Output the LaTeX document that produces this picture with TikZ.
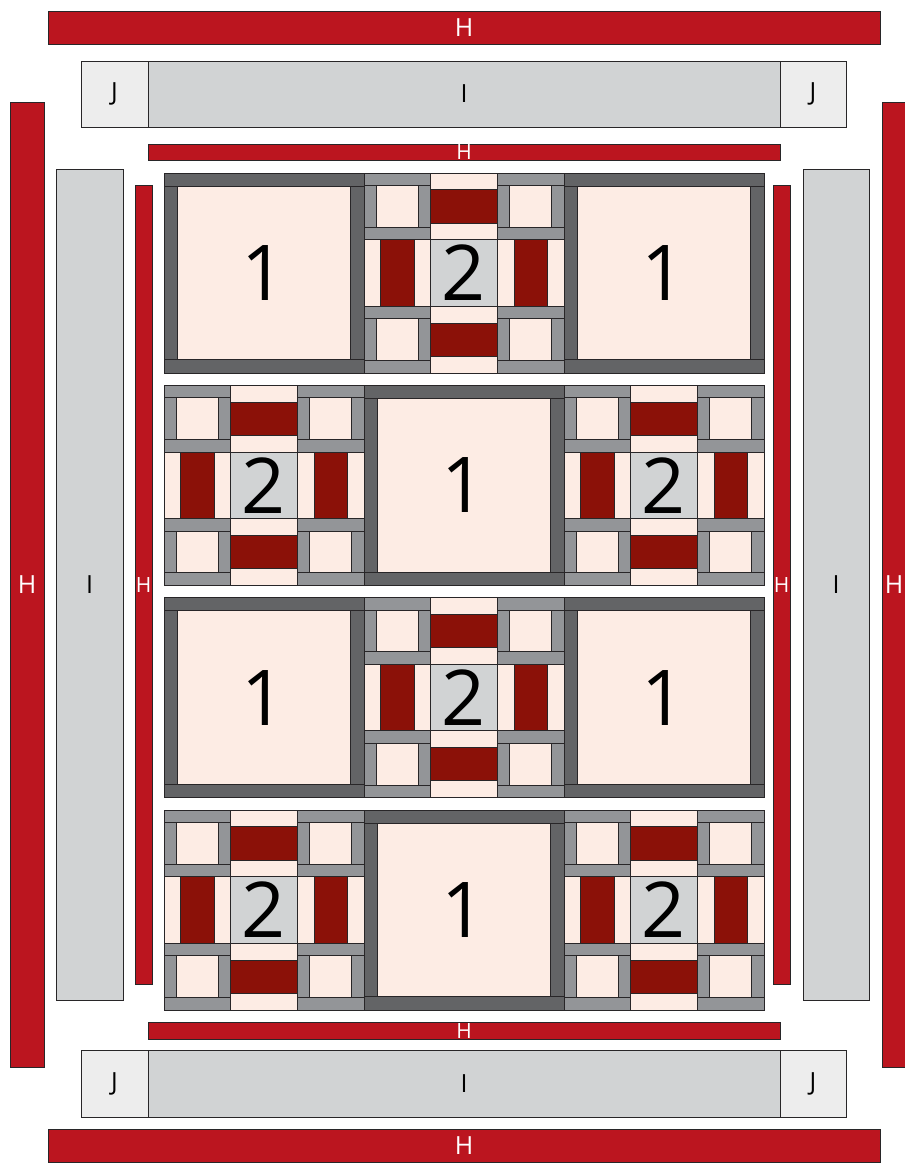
\documentclass[tikz,border=0pt]{standalone}
\usepackage{fontspec}
\setmainfont{Open Sans}
\definecolor{hred}{RGB}{187,21,31}
\definecolor{dred}{RGB}{139,17,8}
\definecolor{qpink}{RGB}{253,236,228}
\definecolor{dgray}{RGB}{99,100,102}
\definecolor{mgray}{RGB}{147,149,152}
\definecolor{lgray}{RGB}{209,211,212}
\definecolor{jgray}{RGB}{237,237,237}
\definecolor{edgec}{RGB}{40,38,40}
\tikzset{
  pc/.style={draw=edgec, line width=0.9pt},
  bar/.style={pc, rectangle, inner sep=0pt, outer sep=0pt},
  hbar/.style={bar, fill=hred, text=white, font=\fontsize{25}{30}\selectfont},
  hsmall/.style={bar, fill=hred, text=white, font=\fontsize{21}{24}\selectfont},
  ibar/.style={bar, fill=lgray, text=black, font=\fontsize{25}{30}\selectfont},
  jbar/.style={bar, fill=jgray, text=black, font=\fontsize{25}{30}\selectfont},
  digit/.style={inner sep=0pt, font=\fontsize{77}{80}\selectfont},
  hlabel/.style={inner sep=0pt, text=white, font=\fontsize{25}{30}\selectfont},
}
\def\cc{66.667}
\def\g{12.6}
\def\fr{13.3}
% block 1 in local coords 0..200
\newcommand{\qBlockA}[1]{%
  \path[pc,fill=dgray] (0,0) rectangle (200,\fr);
  \path[pc,fill=dgray] (0,{200-\fr}) rectangle (200,200);
  \path[pc,fill=dgray] (0,\fr) rectangle (\fr,{200-\fr});
  \path[pc,fill=dgray] ({200-\fr},\fr) rectangle (200,{200-\fr});
  \path[pc,fill=qpink] (\fr,\fr) rectangle ({200-\fr},{200-\fr});
  \node[digit] (#1) at (100,100) {1};
}
\newcommand{\qCorner}{%
  \path[pc,fill=mgray] (0,0) rectangle (\cc,\g);
  \path[pc,fill=mgray] (0,{\cc-\g}) rectangle (\cc,\cc);
  \path[pc,fill=mgray] (0,\g) rectangle (\g,{\cc-\g});
  \path[pc,fill=mgray] ({\cc-\g},\g) rectangle (\cc,{\cc-\g});
  \path[pc,fill=qpink] (\g,\g) rectangle ({\cc-\g},{\cc-\g});
}
\newcommand{\qHcell}{%
  \path[pc,fill=qpink] (0,0) rectangle (\cc,{\cc/4});
  \path[pc,fill=dred] (0,{\cc/4}) rectangle (\cc,{3*\cc/4});
  \path[pc,fill=qpink] (0,{3*\cc/4}) rectangle (\cc,\cc);
}
\newcommand{\qVcell}{%
  \path[pc,fill=qpink] (0,0) rectangle ({\cc/4},\cc);
  \path[pc,fill=dred] ({\cc/4},0) rectangle ({3*\cc/4},\cc);
  \path[pc,fill=qpink] ({3*\cc/4},0) rectangle (\cc,\cc);
}
\newcommand{\qBlockB}[1]{%
  \begin{scope}[shift={(0,0)}]\qCorner\end{scope}
  \begin{scope}[shift={(2*\cc,0)}]\qCorner\end{scope}
  \begin{scope}[shift={(0,2*\cc)}]\qCorner\end{scope}
  \begin{scope}[shift={(2*\cc,2*\cc)}]\qCorner\end{scope}
  \begin{scope}[shift={(\cc,0)}]\qHcell\end{scope}
  \begin{scope}[shift={(\cc,2*\cc)}]\qHcell\end{scope}
  \begin{scope}[shift={(0,\cc)}]\qVcell\end{scope}
  \begin{scope}[shift={(2*\cc,\cc)}]\qVcell\end{scope}
  \path[pc,fill=lgray] (\cc,\cc) rectangle ({2*\cc},{2*\cc});
  \node[digit] (#1) at (100,100) {2};
}
\begin{document}
\begin{tikzpicture}[x=1pt,y=-1pt]
\path[use as bounding box, clip] (0,0) rectangle (905,1163);
\fill[white] (0,0) rectangle (905,1163);
% outer borders
\node[hbar, minimum width=832pt, minimum height=33pt] (Htop) at (464,27.5) {H};
\node[hbar, minimum width=832pt, minimum height=33pt] (Hbot) at (464,1145.5) {H};
\node[hbar, minimum width=34pt, minimum height=965pt] (Hleft) at (27,584.5) {H};
\node[hbar, minimum width=34pt, minimum height=965pt] (Hright) at (899,584.5) {};
\node[hlabel] (HrightLabel) at (894,584.5) {H};
% J I J rows
\node[jbar, minimum width=67pt, minimum height=66pt] (Jtl) at (114.5,94) {J};
\node[ibar, minimum width=632pt, minimum height=66pt] (Itop) at (464,94) {I};
\node[jbar, minimum width=66pt, minimum height=66pt] (Jtr) at (813,94) {J};
\node[jbar, minimum width=67pt, minimum height=67pt] (Jbl) at (114.5,1083.5) {J};
\node[ibar, minimum width=632pt, minimum height=67pt] (Ibot) at (464,1083.5) {I};
\node[jbar, minimum width=66pt, minimum height=67pt] (Jbr) at (813,1083.5) {J};
% side I
\node[ibar, minimum width=67pt, minimum height=831pt] (Ileft) at (89.5,584.5) {I};
\node[ibar, minimum width=66pt, minimum height=831pt] (Iright) at (836,584.5) {I};
% small H
\node[hsmall, minimum width=632pt, minimum height=16pt] (hstop) at (464,152) {H};
\node[hsmall, minimum width=632pt, minimum height=17pt] (hsbot) at (464,1030.5) {H};
\node[hsmall, minimum width=17pt, minimum height=799pt] (hsleft) at (143.5,584.5) {H};
\node[hsmall, minimum width=17pt, minimum height=799pt] (hsright) at (781.5,584.5) {H};
% quilt blocks
\begin{scope}[shift={(164,173)}]\qBlockA{a11}\end{scope}
\begin{scope}[shift={(364,173)}]\qBlockB{b12}\end{scope}
\begin{scope}[shift={(564,173)}]\qBlockA{a13}\end{scope}
\begin{scope}[shift={(164,385.3)}]\qBlockB{b21}\end{scope}
\begin{scope}[shift={(364,385.3)}]\qBlockA{a22}\end{scope}
\begin{scope}[shift={(564,385.3)}]\qBlockB{b23}\end{scope}
\begin{scope}[shift={(164,597.6)}]\qBlockA{a31}\end{scope}
\begin{scope}[shift={(364,597.6)}]\qBlockB{b32}\end{scope}
\begin{scope}[shift={(564,597.6)}]\qBlockA{a33}\end{scope}
\begin{scope}[shift={(164,810)}]\qBlockB{b41}\end{scope}
\begin{scope}[shift={(364,810)}]\qBlockA{a42}\end{scope}
\begin{scope}[shift={(564,810)}]\qBlockB{b43}\end{scope}
\end{tikzpicture}
\end{document}
